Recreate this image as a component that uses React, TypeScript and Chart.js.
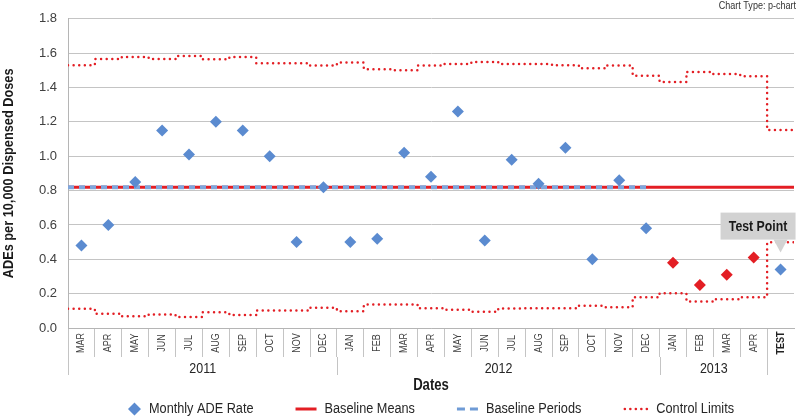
import React, { useEffect, useRef } from 'react';
import { Chart, registerables } from 'chart.js';

Chart.register(...registerables);

// ---------- data ----------
const monthLabels = ['MAR', 'APR', 'MAY', 'JUN', 'JUL', 'AUG', 'SEP', 'OCT', 'NOV', 'DEC',
  'JAN', 'FEB', 'MAR', 'APR', 'MAY', 'JUN', 'JUL', 'AUG', 'SEP', 'OCT', 'NOV', 'DEC',
  'JAN', 'FEB', 'MAR', 'APR', 'TEST'];
const yearLabels = ['2011', '2012', '2013', ''];
const yearSpans = [10, 12, 4, 1];

const monthlyRate = [0.48, 0.60, 0.85, 1.15, 1.01, 1.20, 1.15, 1.00, 0.50, 0.82,
  0.50, 0.52, 1.02, 0.88, 1.26, 0.51, 0.98, 0.84, 1.05, 0.40, 0.86, 0.58,
  0.38, 0.25, 0.31, 0.41, 0.34];
const highlightedIdx = [22, 23, 24, 25];

const upperLimit = [1.530, 1.566, 1.578, 1.566, 1.583, 1.564, 1.577, 1.541, 1.541, 1.528,
  1.545, 1.506, 1.500, 1.528, 1.537, 1.549, 1.537, 1.537, 1.529, 1.512, 1.528, 1.468,
  1.432, 1.491, 1.478, 1.466, 1.152];
const lowerLimit = [0.112, 0.083, 0.068, 0.079, 0.064, 0.091, 0.075, 0.102, 0.102, 0.118,
  0.098, 0.137, 0.137, 0.115, 0.106, 0.095, 0.114, 0.115, 0.115, 0.129, 0.121, 0.179,
  0.202, 0.154, 0.167, 0.179, 0.499];

const baselineMean = 0.82;
const baselinePeriodEnd = 21.1; // through DEC 2012
const testPointLabel = 'Test Point';
const chartTypeNote = 'Chart Type: p-chart';
const xTitle = 'Dates';
const yTitle = 'ADEs per 10,000 Dispensed Doses';
const legendLabels = ['Monthly ADE Rate', 'Baseline Means', 'Baseline Periods', 'Control Limits'];

// ---------- style ----------
const SANS = '"Liberation Sans", Arial, sans-serif';
const CONDENSE = 0.82;
const BLUE = '#5b8bd0';
const LIGHT_BLUE = '#7fa6dc';
const RED = '#e31e24';
const GRID = '#c4c4c4';
const TEXT = '#404040';
const DARK = '#1a1a1a';

const stepData = (vals: number[]) => {
  const pts = vals.map((v, i) => ({ x: i - 0.5, y: v }));
  pts.push({ x: vals.length - 0.5, y: vals[vals.length - 1] });
  return pts;
};

// draws condensed text (horizontal squeeze in the text direction)
function cText(ctx: CanvasRenderingContext2D, text: string, x: number, y: number, font: string,
  color: string, align: CanvasTextAlign = 'center', rot = 0, squeeze = CONDENSE) {
  ctx.save();
  ctx.translate(x, y);
  if (rot) ctx.rotate(rot);
  ctx.scale(squeeze, 1);
  ctx.font = font;
  ctx.fillStyle = color;
  ctx.textAlign = align;
  ctx.textBaseline = 'middle';
  ctx.fillText(text, 0, 0);
  ctx.restore();
}

const decorPlugin = {
  id: 'decor',
  afterDatasetsDraw(chart: any) {
    const { ctx } = chart;
    const meta = chart.getDatasetMeta(0);
    const el = meta.data[monthLabels.length - 1];
    if (!el) return;
    const px = el.x, py = el.y;
    const right = px + 15, left = right - 75, bottom = py - 30, top = py - 57;
    ctx.save();
    ctx.fillStyle = '#d2d2d2';
    ctx.fillRect(left, top, right - left, bottom - top);
    ctx.beginPath();
    ctx.moveTo(px - 7, bottom);
    ctx.lineTo(px + 7, bottom);
    ctx.lineTo(px, py - 17);
    ctx.closePath();
    ctx.fill();
    ctx.restore();
    cText(ctx, testPointLabel, (left + right) / 2, (top + bottom) / 2 + 0.5, `bold 15px ${SANS}`, DARK);
  },
  afterDraw(chart: any) {
    const { ctx, chartArea } = chart;
    const xs = chart.scales.x;
    const axisTop = chartArea.bottom;
    // month labels
    monthLabels.forEach((m, i) => {
      const px = xs.getPixelForValue(i);
      cText(ctx, m, px, axisTop + 15, `${m === 'TEST' ? 'bold ' : ''}11px ${SANS}`,
        m === 'TEST' ? '#222' : TEXT, 'center', -Math.PI / 2);
    });
    // year separators and labels
    ctx.save();
    let idx = 0;
    ctx.strokeStyle = GRID;
    ctx.lineWidth = 1;
    yearLabels.forEach((y, k) => {
      const start = idx;
      const end = idx + yearSpans[k] - 1;
      const l = Math.round(xs.getPixelForValue(start - 0.5)) + 0.5;
      const r = xs.getPixelForValue(end + 0.5);
      ctx.beginPath();
      ctx.moveTo(l, axisTop + 29);
      ctx.lineTo(l, axisTop + 47);
      ctx.stroke();
      if (y) cText(ctx, y, (l + r) / 2, axisTop + 40.5, `14.5px ${SANS}`, '#262626', 'center', 0, 0.86);
      idx = end + 1;
    });
    ctx.restore();

    // axis titles
    cText(ctx, xTitle, (chartArea.left + chartArea.right) / 2, axisTop + 57.5, `bold 16px ${SANS}`, DARK);
    cText(ctx, yTitle, 8.5, (chartArea.top + chartArea.bottom) / 2, `bold 15px ${SANS}`, DARK, 'center', -Math.PI / 2, 0.85);

    // chart type note
    cText(ctx, chartTypeNote, 796, 6, `11px ${SANS}`, '#333', 'right');

    // legend
    ctx.save();
    const ly = 409;
    const legendFont = `15.5px ${SANS}`;
    const markerW = [13, 21, 21, 25];
    const gapText = 8;
    const gapItem = 42;
    ctx.font = legendFont;
    const widths = legendLabels.map((t) => ctx.measureText(t).width * CONDENSE);
    let total = gapItem * (legendLabels.length - 1);
    legendLabels.forEach((_, i) => { total += markerW[i] + gapText + widths[i]; });
    let x = (chartArea.left + chartArea.right) / 2 - total / 2;
    legendLabels.forEach((t, i) => {
      const w = markerW[i];
      if (i === 0) {
        const cx = x + w / 2, r = 6.5;
        ctx.fillStyle = BLUE;
        ctx.beginPath();
        ctx.moveTo(cx, ly - r); ctx.lineTo(cx + r, ly); ctx.lineTo(cx, ly + r); ctx.lineTo(cx - r, ly);
        ctx.closePath(); ctx.fill();
      } else if (i === 1) {
        ctx.strokeStyle = RED; ctx.lineWidth = 3;
        ctx.beginPath(); ctx.moveTo(x, ly); ctx.lineTo(x + w, ly); ctx.stroke();
      } else if (i === 2) {
        ctx.strokeStyle = '#6f9bd6'; ctx.lineWidth = 3;
        ctx.beginPath(); ctx.moveTo(x, ly); ctx.lineTo(x + 8, ly); ctx.moveTo(x + 13, ly); ctx.lineTo(x + 21, ly); ctx.stroke();
      } else {
        ctx.fillStyle = RED;
        for (let d = 0; d < 5; d++) {
          ctx.beginPath(); ctx.arc(x + 1.5 + d * 5.5, ly, 1.3, 0, Math.PI * 2); ctx.fill();
        }
      }
      cText(ctx, t, x + w + gapText, ly, legendFont, '#262626', 'left');
      x += w + gapText + widths[i] + gapItem;
    });
    ctx.restore();
  },
};

export default function App() {
  const canvasRef = useRef<HTMLCanvasElement | null>(null);

  useEffect(() => {
    const canvas = canvasRef.current;
    if (!canvas) return;
    const limitStyle = {
      xAxisID: 'x2',
      stepped: 'before' as const,
      borderColor: RED,
      borderWidth: 2.5,
      borderDash: [0.01, 5.6],
      borderCapStyle: 'round' as const,
      pointRadius: 0,
      fill: false,
    };
    const chart = new Chart(canvas, {
      type: 'line',
      data: {
        labels: monthLabels,
        datasets: [
          {
            label: legendLabels[0],
            data: monthlyRate,
            xAxisID: 'x',
            showLine: false,
            pointStyle: 'rectRot',
            pointRadius: 6,
            pointHoverRadius: 6,
            pointBorderWidth: 0,
            pointBackgroundColor: monthlyRate.map((_, i) => (highlightedIdx.includes(i) ? RED : BLUE)),
            pointBorderColor: 'rgba(0,0,0,0)',
            order: 0,
          },
          {
            label: legendLabels[2],
            data: [{ x: -0.5, y: baselineMean }, { x: baselinePeriodEnd, y: baselineMean }],
            xAxisID: 'x2',
            borderColor: LIGHT_BLUE,
            borderWidth: 4,
            borderDash: [6, 5],
            pointRadius: 0,
            order: 1,
          },
          {
            label: legendLabels[1],
            data: [{ x: -0.5, y: baselineMean }, { x: monthLabels.length - 0.5, y: baselineMean }],
            xAxisID: 'x2',
            borderColor: RED,
            borderWidth: 3,
            pointRadius: 0,
            order: 2,
          },
          { label: 'Upper Control Limit', data: stepData(upperLimit), order: 3, ...limitStyle },
          { label: 'Lower Control Limit', data: stepData(lowerLimit), order: 4, ...limitStyle },
        ] as any,
      },
      options: {
        responsive: false,
        animation: false,
        devicePixelRatio: 1,
        events: [],
        layout: { padding: { top: 15, right: 3, bottom: 23, left: 0 } },
        plugins: {
          legend: { display: false },
          tooltip: { enabled: false },
        },
        scales: {
          x: {
            type: 'category',
            offset: true,
            grid: {
              offset: true,
              drawOnChartArea: false,
              drawTicks: true,
              tickLength: 29,
              lineWidth: 1,
              color: (c: any) => (c.index === undefined ? 'rgba(0,0,0,0)' : GRID),
            },
            ticks: { display: false },
            border: { display: true, color: '#b5b5b5' },
            title: { display: false },
            afterFit: (s: any) => { s.height = 68; },
          },
          x2: { type: 'linear', min: -0.5, max: monthLabels.length - 0.5, display: false },
          y: {
            min: 0,
            max: 1.8,
            ticks: {
              stepSize: 0.2,
              padding: 11,
              color: TEXT,
              font: { family: SANS, size: 13 },
              callback: (v: any) => Number(v).toFixed(1),
            },
            grid: { color: GRID, lineWidth: 1, drawTicks: false },
            border: { display: true, color: '#b5b5b5' },
            title: { display: false },
            afterFit: (s: any) => { s.width = 68; },
          },
        },
      } as any,
      plugins: [decorPlugin],
    });
    return () => chart.destroy();
  }, []);

  return (
    <div style={{ position: 'absolute', left: 0, top: 0, width: 800, height: 419, background: '#fff' }}>
      <canvas ref={canvasRef} width={800} height={419} style={{ display: 'block' }} />
    </div>
  );
}
